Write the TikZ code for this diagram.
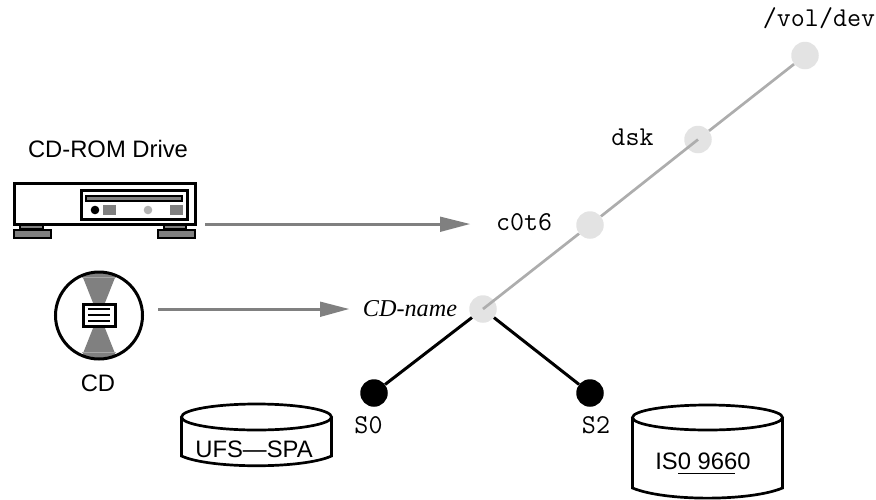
\documentclass[tikz,border=0pt]{standalone}
\usepackage{fontspec}
\setmainfont{Liberation Sans}
\newfontfamily\timesfont{Liberation Serif}
\tikzset{
  x=1pt,y=-1pt,
  sanslabel/.style={inner sep=0pt,font=\fontsize{23.8}{26}\selectfont},
  monolabel/.style={inner sep=0pt,font=\fontsize{27.2}{30}\selectfont\ttfamily},
  namelabel/.style={inner sep=0pt,font=\fontsize{24.2}{28}\selectfont\timesfont\itshape},
  lightdot/.style={circle,fill=black!11,minimum size=27.5pt,inner sep=0pt},
  blackdot/.style={circle,fill=black,minimum size=27.5pt,inner sep=0pt},
  grayedge/.style={draw=black!32,line width=2.7pt},
  blackedge/.style={draw=black,line width=3pt},
  grayarrow/.style={draw=black!50,line width=3pt},
  grayhead/.style={fill=black!50},
  hw/.style={draw=black,line width=3pt},
  hwfill/.style={draw=black,line width=2.6pt,fill=black!50},
  diskline/.style={draw=black,line width=2.7pt,fill=white},
}
\begin{document}
\begin{tikzpicture}
\useasboundingbox (0,0) rectangle (876,499);
% tree
\node[lightdot] (vol) at (805,55.5) {};
\node[lightdot] (dskn) at (698,139.5) {};
\node[lightdot] (ctn) at (590,225) {};
\node[lightdot] (cdn) at (483,309) {};
\node[blackdot] (s0n) at (374,393) {};
\node[blackdot] (s2n) at (590,393) {};
\draw[grayedge] (vol) -- (dskn);
\draw[grayedge] (ctn) -- (dskn.center);
\draw[grayedge] (ctn) -- (cdn.center);
\draw[blackedge] (cdn) -- (s0n);
\draw[blackedge] (cdn) -- (s2n);
% tree labels
\node[monolabel,anchor=base] (tvol) at (819,26) {/vol/dev};
\node[monolabel,anchor=base] (tdsk) at (632.5,145) {dsk};
\node[monolabel,anchor=base] (tct) at (524,230) {c0t6};
\node[namelabel,anchor=base] (tname) at (410,316) {CD-name};
\node[monolabel,anchor=base] (ts0) at (368.5,433) {S0};
\node[monolabel,anchor=base] (ts2) at (596,433) {S2};
% drive
\node[sanslabel,anchor=base] (tdrive) at (108,157) {CD-ROM Drive};
\draw[hw,fill=white] (14,183) rectangle (195,224);
\draw[hw] (81,190) rectangle (187,219);
\draw[hwfill] (86,196) rectangle (182,201);
\fill[black] (95,210) circle (4.3);
\fill[black!50] (103,205) rectangle (116,215);
\fill[black!30] (148,210) circle (4.3);
\fill[black!50] (170,205) rectangle (183,215);
\draw[hwfill] (20,225) rectangle (43,229);
\draw[hwfill] (14,230) rectangle (51,238);
\draw[hwfill] (164,225) rectangle (186,229);
\draw[hwfill] (158,230) rectangle (195,238);
% cd
\begin{scope}
\clip (99,315.5) circle (44);
\fill[black!50] (78,265) -- (99,318) -- (120,265) -- cycle;
\fill[black!50] (78,366) -- (99,313) -- (120,366) -- cycle;
\draw[black!35,line width=0.5pt] (82,277) -- (116,277);
\draw[black!35,line width=0.5pt] (82,352) -- (116,352);
\end{scope}
\draw[hw] (99,315.5) circle (43.5);
\draw[hw,fill=white] (83,304) rectangle (115,326);
\draw[black,line width=2.2pt] (88,309) -- (110,309);
\draw[black,line width=2.2pt] (88,315) -- (110,315);
\draw[black,line width=2.2pt] (88,321) -- (110,321);
\node[sanslabel,anchor=base] (tcd) at (98,391) {CD};
% arrows
\coordinate (a1s) at (205,224);
\coordinate (a1e) at (441,224);
\coordinate (a1t) at (470,224);
\draw[grayarrow] (a1s) -- (a1e);
\fill[grayhead] (a1t) -- (440,216.5) -- (440,232) -- cycle;
\coordinate (a2s) at (158,309);
\coordinate (a2e) at (321,309);
\coordinate (a2t) at (349,309);
\draw[grayarrow] (a2s) -- (a2e);
\fill[grayhead] (a2t) -- (320,301.5) -- (320,317) -- cycle;
% disk UFS
\draw[diskline] (181.5,417) -- (181.5,456) .. controls (210,469) and (303,469) .. (331.5,456) -- (331.5,417);
\draw[diskline] (256.5,417) ellipse (75 and 13);
\node[sanslabel,anchor=base] (tufs) at (254,457) {UFS—SPA};
% disk ISO
\draw[diskline] (632.5,417.5) -- (632.5,488) .. controls (665,501.5) and (750,501.5) .. (782.5,488) -- (782.5,417.5);
\draw[diskline] (707.5,417.5) ellipse (75 and 12.5);
\node[sanslabel,anchor=base] (tiso) at (703,469) {IS0 9660};
\coordinate (u1) at (678,473);
\coordinate (u2) at (735,473);
\draw[black,line width=0.7pt] (u1) -- (u2);
\end{tikzpicture}
\end{document}
